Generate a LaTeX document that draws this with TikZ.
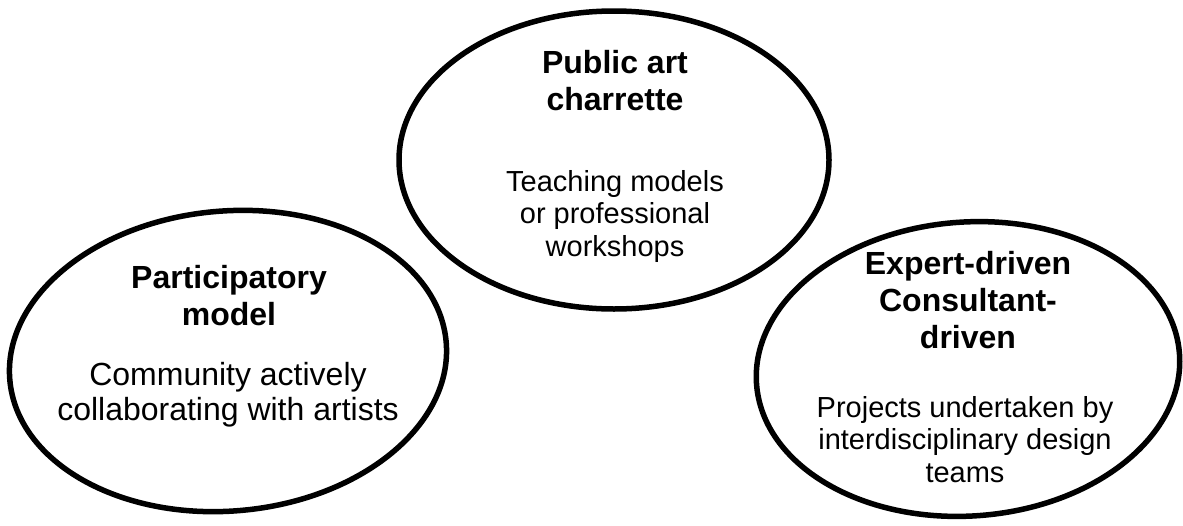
\documentclass[tikz,border=0pt]{standalone}
\usepackage{fontspec}
\setmainfont{Liberation Sans}
\begin{document}
\begin{tikzpicture}[x=1pt,y=-1pt,
  oval/.style={line width=5.5pt,draw=black},
  % the base anchor of a multi-line node sits on its last line
  headtext/.style={anchor=base,align=center,inner sep=0pt,
    font=\fontsize{32}{37}\selectfont\bfseries},
  bodybig/.style={anchor=base,align=center,inner sep=0pt,
    font=\fontsize{32}{35}\selectfont},
  bodysmall/.style={anchor=base,align=center,inner sep=0pt,
    font=\fontsize{29}{32.5}\selectfont}]
\useasboundingbox[fill=white] (0,0) rectangle (1183,525);

% the three ovals
\draw[oval,rotate around={5:(228,361)}] (228,361) ellipse [x radius=219,y radius=150];
\draw[oval] (614,160) ellipse [x radius=215,y radius=149];
\draw[oval,rotate around={4:(968,369)}] (968,369) ellipse [x radius=212,y radius=147];

% left oval
\node[headtext] (parthead) at (229,325) {Participatory\\model};
\node[bodybig] (partbody) at (228,420) {Community actively\\collaborating with artists};

% top oval
\node[headtext] (charhead) at (615,110) {Public art\\charrette};
\node[bodysmall] (charbody) at (615,256) {Teaching models\\or professional\\workshops};

% right oval
\node[headtext] (exphead) at (968,348) {Expert-driven\\Consultant-\\driven};
\node[bodysmall] (expbody) at (965,482) {Projects undertaken by\\interdisciplinary design\\teams};
\end{tikzpicture}
\end{document}
